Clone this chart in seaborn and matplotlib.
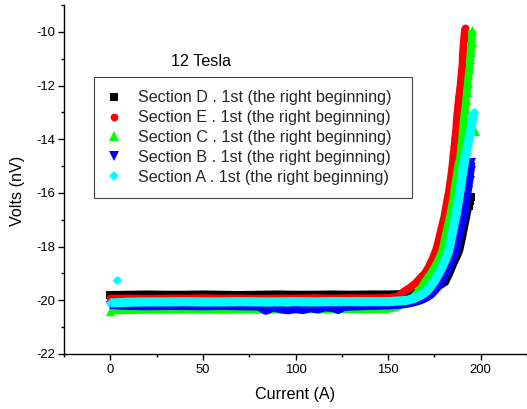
import matplotlib
matplotlib.use("Agg")
import matplotlib.pyplot as plt
from matplotlib.lines import Line2D
from matplotlib.ticker import MultipleLocator
import seaborn as sns

# ---- measured V-I sweeps, 12 T ------------------------------------------
flat_current = [0, 10, 20, 30, 40, 50, 60, 70, 80, 90, 100, 110, 120, 130, 140, 150]

# Section D
d_current = flat_current + [155, 160, 165, 170, 174, 177, 181, 183.2, 185.3, 187,
                            188.6, 190.3, 191.7, 192.6, 193.5, 194.3, 195.0]
d_volts = [-19.79, -19.78, -19.77, -19.78, -19.78, -19.77, -19.78, -19.79,
           -19.78, -19.77, -19.78, -19.78, -19.77, -19.78, -19.77, -19.77,
           -19.76, -19.75, -19.72, -19.66, -19.58, -19.50, -19.32, -19.00,
           -18.65, -18.40, -18.14, -17.60, -17.10, -16.80, -16.50, -16.30, -16.15]

# Section E
e_current = flat_current + [155, 159, 162, 165, 168, 170, 172, 174, 175.8, 177.5,
                            179, 180.3, 181.7, 182.8, 183.6, 184.5, 185.3, 185.8,
                            186.2, 186.7, 187.0, 187.4, 187.9, 188.3, 188.9, 189.4,
                            189.8, 190.2, 190.3, 190.6, 191.0, 191.6]
e_volts = [-19.93, -19.93, -19.94, -19.93, -19.93, -19.92, -19.93, -19.93,
           -19.94, -19.93, -19.93, -19.92, -19.93, -19.92, -19.92, -19.91,
           -19.86, -19.65, -19.52, -19.35, -19.12, -18.98, -18.75, -18.45,
           -18.14, -17.70, -17.25, -16.90, -16.35, -15.95, -15.60, -15.10,
           -14.60, -14.29, -13.97, -13.66, -13.35, -13.04, -12.73, -12.42,
           -12.11, -11.77, -11.45, -11.18, -10.87, -10.62, -10.25, -9.87]

# Section C
c_current = flat_current + [155, 159, 162, 165, 168, 170, 172, 174, 176, 177.5,
                            179.3, 181.3, 183.3, 185.0, 186.3, 187.6, 188.9, 189.2,
                            189.8, 190.1, 190.6, 191.0, 191.6, 192.1, 192.5, 193.0,
                            193.4, 193.9, 194.3, 194.6, 195.2, 195.3]
c_volts = [-20.38, -20.37, -20.36, -20.36, -20.35, -20.36, -20.36, -20.35,
           -20.36, -20.35, -20.35, -20.34, -20.34, -20.34, -20.33, -20.33,
           -20.25, -20.12, -19.98, -19.78, -19.52, -19.30, -19.10, -18.90,
           -18.65, -18.45, -18.14, -17.50, -16.90, -16.27, -15.65, -15.05,
           -14.66, -14.41, -14.10, -13.79, -13.48, -13.17, -12.86, -12.55,
           -12.24, -11.92, -11.61, -11.37, -11.03, -10.75, -10.37, -9.94]
c_stray_current = [197.0]
c_stray_volts = [-13.70]

# Section B
b_current = [0, 10, 20, 30, 40, 50, 60, 70, 80, 84, 88, 92, 96, 100, 104, 108,
             112, 116, 120, 123, 126, 130, 140, 150,
             155, 160, 164, 168, 171, 173.5, 175.5, 178, 179.5, 181.3, 183.5,
             186.8, 188.3, 189.8, 191, 192.2, 193.2, 194, 194.6, 195.0]
b_volts = [-20.18, -20.22, -20.23, -20.22, -20.22, -20.23, -20.22, -20.23,
           -20.24, -20.40, -20.27, -20.34, -20.38, -20.33, -20.37, -20.30,
           -20.35, -20.27, -20.29, -20.37, -20.26, -20.24, -20.22, -20.20,
           -20.18, -20.14, -20.08, -20.00, -19.90, -19.78, -19.63, -19.42,
           -19.25, -19.00, -18.70, -18.14, -17.60, -17.20, -16.90, -16.35,
           -15.90, -15.50, -15.15, -14.85]

# Section A
a_current = flat_current + [155, 160, 164, 168, 171, 173, 175, 177, 179, 181,
                            182.8, 184.4, 185.8, 187, 188.2, 189.4, 190.6, 191.8,
                            192.8, 193.5, 194.2, 195.0, 195.6, 196.2]
a_volts = [-20.10, -20.07, -20.06, -20.06, -20.05, -20.06, -20.06, -20.05,
           -20.06, -20.06, -20.05, -20.06, -20.05, -20.05, -20.05, -20.05,
           -20.03, -20.00, -19.93, -19.80, -19.65, -19.48, -19.28, -19.05,
           -18.78, -18.48, -18.14, -17.60, -17.10, -16.65, -16.20, -15.65,
           -15.10, -14.60, -14.30, -14.04, -13.80, -13.50, -13.25, -13.00]
a_stray_current = [3.5]
a_stray_volts = [-19.25]

labels = [
    "Section D . 1st (the right beginning)",
    "Section E . 1st (the right beginning)",
    "Section C . 1st (the right beginning)",
    "Section B . 1st (the right beginning)",
    "Section A . 1st (the right beginning)",
]

# ---- styling ---------------------------------------------------------------
sns.set_style("ticks")
plt.rcParams["font.family"] = ["Liberation Sans", "DejaVu Sans"]
plt.rcParams["axes.unicode_minus"] = False

W, H = 527, 409
fig = plt.figure(figsize=(W / 100, H / 100), dpi=100)
ax = fig.add_axes([64 / W, 55 / H, 463 / W, 349 / H])

series = [
    (d_current, d_volts, [], [], "#000000", "s", 5.3, 5.3),
    (e_current, e_volts, [], [], "#ff0000", "o", 5.6, 5.5),
    (c_current, c_volts, c_stray_current, c_stray_volts, "#00ff00", "^", 6.6, 5.5),
    (b_current, b_volts, [], [], "#0000ff", "v", 6.6, 5.5),
    (a_current, a_volts, a_stray_current, a_stray_volts, "#00ffff", "D", 5.0, 6.6),
]

SPARSE_ABOVE = -16.6   # above this voltage the individual symbols separate

for cur, volts, s_cur, s_volts, color, marker, msize, band in series:
    # the dense part of the sweep merges into a continuous band of symbols
    sns.lineplot(x=cur, y=volts, ax=ax, color=color, linewidth=band,
                 sort=False, estimator=None, solid_joinstyle="round",
                 solid_capstyle="butt")
    # separate symbols: first reading, the sparse quench tail, stray readings
    px = [cur[0]] + [i for i, v in zip(cur, volts) if v > SPARSE_ABOVE] + s_cur
    py = [volts[0]] + [v for v in volts if v > SPARSE_ABOVE] + s_volts
    sns.scatterplot(x=px, y=py, ax=ax, marker=marker, s=msize ** 2,
                    color=color, edgecolor=color, linewidth=0, legend=False)

ax.set_xlim(-25, 225)
ax.set_ylim(-22, -9)
ax.xaxis.set_major_locator(MultipleLocator(50))
ax.xaxis.set_minor_locator(MultipleLocator(25))
ax.yaxis.set_major_locator(MultipleLocator(2))
ax.yaxis.set_minor_locator(MultipleLocator(1))

for side in ("top", "right"):
    ax.spines[side].set_visible(False)
for side in ("left", "bottom"):
    ax.spines[side].set_linewidth(1.0)
    ax.spines[side].set_color("black")

ax.tick_params(which="major", direction="out", length=4.3, width=1.0,
               color="black", labelsize=9.4, labelcolor="black")
ax.tick_params(axis="x", which="major", pad=2.7)
ax.tick_params(axis="y", which="major", pad=2.2)
ax.tick_params(which="minor", direction="out", length=2.4, width=1.0,
               color="black")

ax.set_xlabel("Current (A)", fontsize=11.6, color="black")
ax.set_ylabel("Volts (nV)", fontsize=11.6, color="black")
ax.xaxis.set_label_coords(0.5, -0.0946)
ax.yaxis.set_label_coords(-0.0842, 0.467)

fig.text(201 / W, 1 - 66 / H, "12 Tesla", fontsize=11.6, ha="center",
         va="baseline", color="black")

handles = [
    Line2D([], [], linestyle="none", marker=m, markersize=ms, color=c,
           markeredgewidth=0)
    for (_, _, _, _, c, m, ms, _) in series
]
leg = ax.legend(handles, labels, loc="upper left", mode="expand",
                bbox_to_anchor=(94 / W, 1 - 199 / H, 318 / W, 122 / H),
                bbox_transform=fig.transFigure, borderaxespad=0,
                fontsize=11.6, frameon=True, fancybox=False, shadow=False,
                borderpad=0.835, handlelength=0.82, handletextpad=1.06,
                labelspacing=0.30)
frame = leg.get_frame()
frame.set_edgecolor("#404040")
frame.set_linewidth(0.8)
frame.set_facecolor("white")
frame.set_alpha(1)

fig.savefig("out.png", dpi=100)
